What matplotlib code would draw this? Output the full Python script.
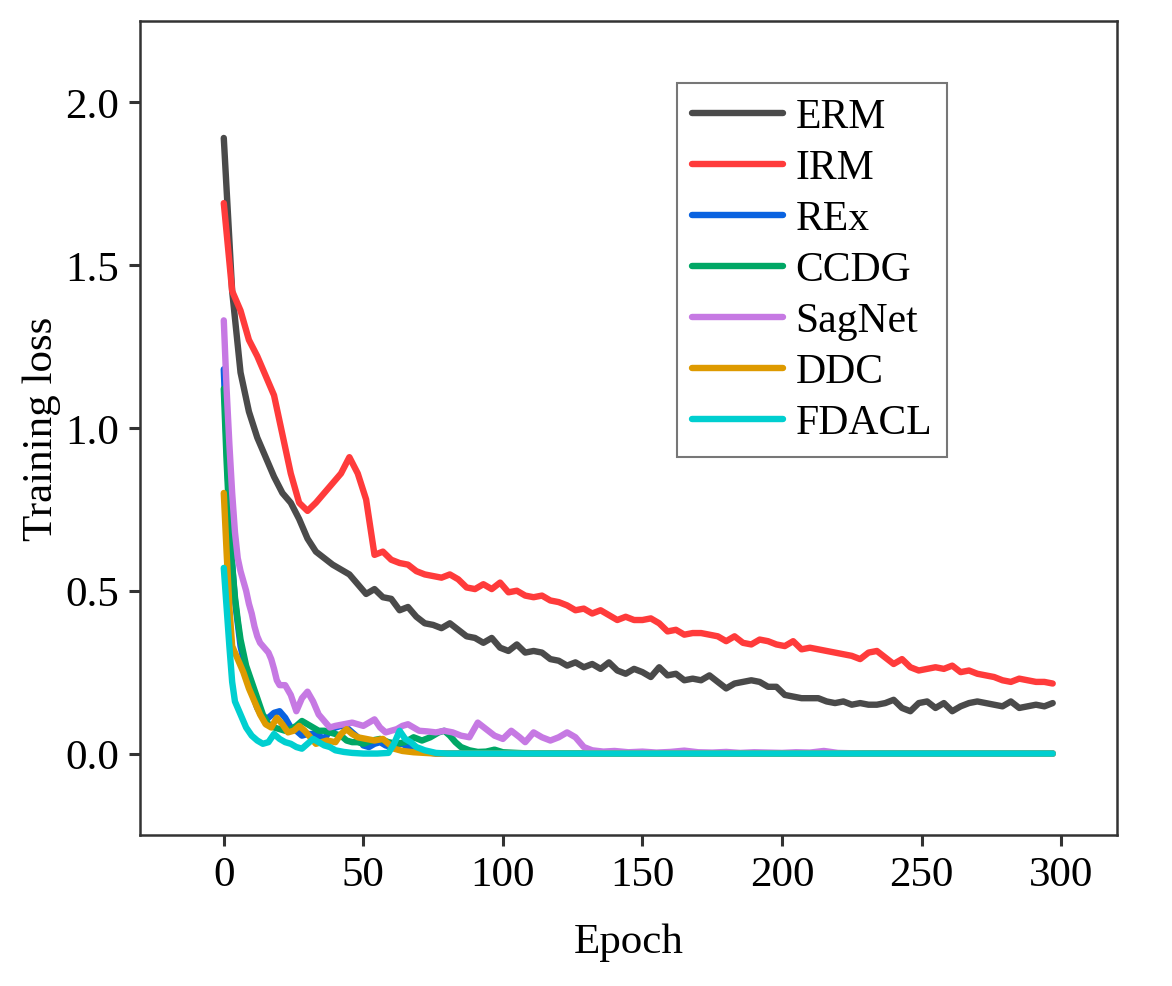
import numpy as np
import matplotlib
matplotlib.use("Agg")
from matplotlib import pyplot as plt
from matplotlib.ticker import MultipleLocator

# Data
erm = [1.89, 1.42, 1.17, 1.05, 0.97, 0.91, 0.85, 0.80, 0.77, 0.72,
       0.66, 0.62, 0.60, 0.58, 0.565, 0.55, 0.52, 0.49, 0.505, 0.48,
       0.475, 0.44, 0.45, 0.42, 0.40, 0.395, 0.385, 0.40, 0.38, 0.36,
       0.355, 0.34, 0.355, 0.325, 0.315, 0.335, 0.31, 0.315, 0.31, 0.29,
       0.285, 0.27, 0.28, 0.265, 0.275, 0.26, 0.28, 0.255, 0.245, 0.26,
       0.25, 0.235, 0.265, 0.24, 0.245, 0.225, 0.23, 0.225, 0.24, 0.22,
       0.20, 0.215, 0.22, 0.225, 0.22, 0.205, 0.205, 0.18, 0.175, 0.17,
       0.17, 0.17, 0.16, 0.155, 0.16, 0.15, 0.155, 0.15, 0.15, 0.155,
       0.165, 0.14, 0.13, 0.155, 0.16, 0.14, 0.155, 0.13, 0.145, 0.155,
       0.16, 0.155, 0.15, 0.145, 0.16, 0.14, 0.145, 0.15, 0.145, 0.155]

irm = [1.69, 1.42, 1.36, 1.27, 1.22, 1.16, 1.10, 0.98, 0.86, 0.77,
       0.745, 0.77, 0.80, 0.83, 0.86, 0.91, 0.86, 0.78, 0.61, 0.62,
       0.595, 0.585, 0.58, 0.56, 0.55, 0.545, 0.54, 0.55, 0.535, 0.51,
       0.505, 0.52, 0.505, 0.525, 0.495, 0.50, 0.485, 0.48, 0.485, 0.47,
       0.465, 0.455, 0.44, 0.445, 0.43, 0.44, 0.425, 0.41, 0.42, 0.41,
       0.41, 0.415, 0.40, 0.375, 0.38, 0.365, 0.37, 0.37, 0.365, 0.36,
       0.345, 0.36, 0.34, 0.335, 0.35, 0.345, 0.335, 0.33, 0.345, 0.32,
       0.325, 0.32, 0.315, 0.31, 0.305, 0.30, 0.29, 0.31, 0.315, 0.295,
       0.275, 0.29, 0.265, 0.255, 0.26, 0.265, 0.26, 0.27, 0.25, 0.255,
       0.245, 0.24, 0.235, 0.225, 0.22, 0.23, 0.225, 0.22, 0.22, 0.215]

rex_epoch = [0, 1, 2, 3, 4, 5, 6, 8, 10, 12, 14, 16, 18, 20, 22, 24, 26, 28, 30,
             32, 34, 36, 38, 40, 42, 44, 46, 48, 50, 52, 54, 56, 58, 60, 62, 64,
             66, 68, 70, 73, 76, 297]
rex = [1.18, 0.95, 0.75, 0.58, 0.47, 0.40, 0.33, 0.25, 0.19, 0.14, 0.11, 0.11,
       0.125, 0.13, 0.11, 0.08, 0.07, 0.055, 0.06, 0.06, 0.055, 0.045, 0.07,
       0.08, 0.085, 0.08, 0.065, 0.05, 0.025, 0.02, 0.03, 0.035, 0.025, 0.02,
       0.03, 0.03, 0.02, 0.015, 0.01, 0.004, 0.0, 0.0]

ccdg_epoch = [0, 1, 2, 3, 4, 5, 6, 8, 10, 12, 14, 16, 18, 20, 22, 24, 26, 28, 30,
              32, 34, 36, 38, 40, 42, 44, 46, 48, 50, 53, 56, 59, 62, 65, 68, 71,
              74, 77, 79, 81, 83, 85, 88, 91, 94, 97, 100, 105, 110, 297]
ccdg = [1.12, 0.90, 0.72, 0.58, 0.48, 0.41, 0.35, 0.27, 0.22, 0.17, 0.12, 0.09,
        0.08, 0.075, 0.07, 0.075, 0.085, 0.10, 0.09, 0.08, 0.07, 0.07, 0.065,
        0.06, 0.055, 0.04, 0.035, 0.035, 0.03, 0.04, 0.045, 0.035, 0.03, 0.035,
        0.05, 0.04, 0.05, 0.065, 0.07, 0.055, 0.035, 0.02, 0.01, 0.005, 0.006,
        0.012, 0.004, 0.002, 0.0, 0.0]

sagnet_epoch = [0, 1, 2, 3, 4, 5, 6, 7, 8, 9, 10, 11, 12, 13, 14, 15, 16, 17, 18,
                19, 20, 22, 24, 26, 28, 30, 32, 34, 36, 38, 40, 43, 46, 48, 50,
                52, 54, 56, 58, 60, 62, 64, 66, 68, 70, 73, 76, 79, 82, 85, 88,
                91, 94, 97, 100, 103, 106, 108, 111, 114, 117, 120, 123, 126,
                129, 132, 136, 140, 145, 150, 155, 160, 165, 170, 175, 180, 185,
                190, 195, 200, 205, 210, 215, 220, 230, 297]
sagnet = [1.33, 1.12, 0.95, 0.80, 0.68, 0.60, 0.56, 0.53, 0.50, 0.46, 0.43,
          0.39, 0.36, 0.34, 0.33, 0.32, 0.31, 0.29, 0.26, 0.225, 0.21, 0.21,
          0.18, 0.13, 0.17, 0.19, 0.16, 0.12, 0.10, 0.08, 0.085, 0.09, 0.095,
          0.09, 0.085, 0.095, 0.105, 0.08, 0.065, 0.07, 0.075, 0.085, 0.09,
          0.08, 0.07, 0.068, 0.065, 0.07, 0.065, 0.055, 0.05, 0.095, 0.075,
          0.055, 0.045, 0.07, 0.05, 0.035, 0.065, 0.05, 0.04, 0.05, 0.065,
          0.05, 0.02, 0.01, 0.006, 0.008, 0.004, 0.006, 0.003, 0.005, 0.009,
          0.004, 0.003, 0.005, 0.002, 0.004, 0.003, 0.002, 0.004, 0.003, 0.008,
          0.002, 0.0, 0.0]

ddc_epoch = [0, 1, 2, 3, 5, 7, 9, 11, 13, 15, 17, 19, 21, 23, 25, 27, 29, 31, 33,
             35, 37, 40, 42, 44, 46, 48, 51, 54, 57, 59, 61, 64, 68, 72, 76, 297]
ddc = [0.80, 0.62, 0.45, 0.33, 0.29, 0.25, 0.20, 0.16, 0.12, 0.09, 0.08, 0.11,
       0.09, 0.065, 0.07, 0.085, 0.07, 0.05, 0.03, 0.035, 0.04, 0.035, 0.06,
       0.075, 0.06, 0.05, 0.045, 0.04, 0.045, 0.03, 0.015, 0.008, 0.004, 0.002,
       0.0, 0.0]

fdacl_epoch = [0, 1, 2, 3, 4, 6, 8, 10, 12, 14, 16, 18, 20, 22, 24, 26, 28, 30,
               32, 34, 36, 38, 40, 43, 46, 50, 55, 59, 61, 63, 65, 67, 69, 72,
               76, 80, 297]
fdacl = [0.57, 0.45, 0.33, 0.22, 0.16, 0.12, 0.08, 0.055, 0.04, 0.03, 0.035,
         0.06, 0.045, 0.035, 0.03, 0.02, 0.015, 0.03, 0.045, 0.035, 0.025, 0.02,
         0.01, 0.005, 0.002, 0.0, 0.0, 0.002, 0.03, 0.07, 0.045, 0.035, 0.02,
         0.01, 0.002, 0.0, 0.0]

erm_epoch = np.arange(len(erm)) * 3
irm_epoch = np.arange(len(irm)) * 3

series = [
    ("ERM", erm_epoch, erm, "#4a4a4a"),
    ("IRM", irm_epoch, irm, "#ff3b3b"),
    ("REx", rex_epoch, rex, "#0a63e0"),
    ("CCDG", ccdg_epoch, ccdg, "#00a765"),
    ("SagNet", sagnet_epoch, sagnet, "#c679e3"),
    ("DDC", ddc_epoch, ddc, "#de9a00"),
    ("FDACL", fdacl_epoch, fdacl, "#00cfd0"),
]

# Plot config
plt.rcParams['font.family'] = ['Liberation Serif', 'DejaVu Serif']
font_size = 31
legend_size = 30
spine_color = '#333333'

fig = plt.figure(figsize=(11.72, 9.87), dpi=100)
ax = fig.add_axes([0.1195, 0.153, 0.8335, 0.825])

for name, x, y, color in series:
    ax.plot(x, y, color=color, lw=4.6, label=name,
            solid_capstyle='round', solid_joinstyle='round')

ax.set_xlim(-30, 320)
ax.set_ylim(-0.25, 2.25)
ax.xaxis.set_major_locator(MultipleLocator(50))
ax.yaxis.set_major_locator(MultipleLocator(0.5))
ax.yaxis.set_major_formatter(plt.FormatStrFormatter('%.1f'))

for side in ['top', 'right', 'bottom', 'left']:
    ax.spines[side].set_color(spine_color)
    ax.spines[side].set_linewidth(1.8)
ax.tick_params(direction='out', length=8, width=2.2, color=spine_color,
               labelsize=font_size, pad=7)

ax.set_xlabel('Epoch', size=font_size, labelpad=20)
ax.set_ylabel('Training loss', size=font_size, labelpad=3)

leg = ax.legend(loc='upper right', bbox_to_anchor=(0.826, 0.923),
                borderaxespad=0, fontsize=legend_size, frameon=True,
                fancybox=False, edgecolor='#777777', framealpha=1,
                handlelength=2.2, handletextpad=0.3, labelspacing=0.3,
                borderpad=0.35)
leg.get_frame().set_linewidth(1.5)

fig.savefig('out.png', dpi=100)
